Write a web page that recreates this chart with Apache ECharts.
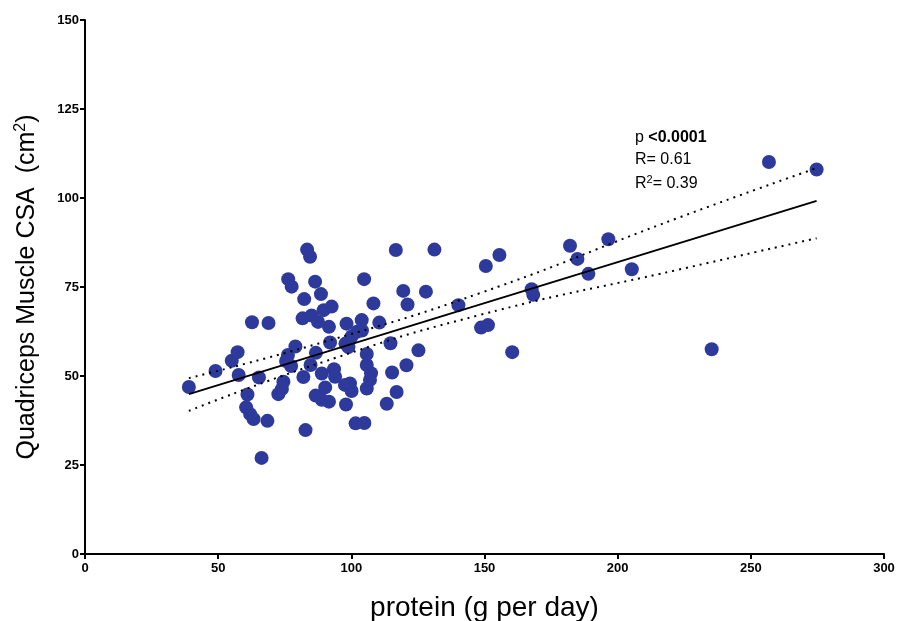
<!DOCTYPE html>
<html><head><meta charset="utf-8">
<script src="https://cdn.jsdelivr.net/npm/echarts@6/dist/echarts.min.js"></script>
<style>html,body{margin:0;padding:0;background:#fff}#c{width:901px;height:621px}</style>
</head><body><div id="c"></div>
<script>
const proteinX = [39.0,49.0,55.1,57.3,57.7,61.0,60.5,62.0,63.3,62.7,
68.9,65.3,68.5,66.3,72.6,73.9,74.5,76.2,75.5,77.4,
79.0,82.0,82.8,84.7,86.7,88.9,83.4,84.5,76.3,77.6,
86.4,82.3,88.6,81.7,85.1,87.5,91.6,89.6,92.6,92.0,
86.6,88.9,90.2,91.6,93.5,93.9,98.2,103.9,110.5,97.8,
100.1,102.1,104.0,98.9,114.7,105.8,125.2,105.8,107.4,107.0,
105.8,120.7,115.3,117.0,113.3,97.6,99.5,100.1,98.0,101.6,
104.9,104.8,116.7,131.2,119.5,128.0,108.3,121.1,140.2,148.7,
151.3,150.5,155.6,160.4,167.7,168.3,182.1,184.9,189.0,196.5,
205.3,235.3,256.8,274.7];
const csaY = [46.9,51.4,54.3,56.7,50.3,44.8,41.2,39.3,37.9,65.1,
64.9,49.6,37.4,27.0,44.9,46.3,48.4,55.9,54.2,52.8,
58.3,49.7,34.8,53.1,56.5,50.7,85.5,83.5,77.2,75.1,
76.5,71.6,73.0,66.2,67.0,65.2,63.8,68.5,69.5,59.4,
44.5,43.3,46.8,42.8,51.9,49.8,64.7,65.7,65.0,59.1,
61.1,62.4,62.8,58.1,59.2,56.2,57.2,53.1,50.8,48.9,
46.5,53.0,51.0,45.5,42.2,47.5,47.9,45.8,42.0,36.7,
36.8,77.2,85.4,85.5,73.9,73.7,70.4,70.1,69.9,63.6,
64.3,80.9,84.0,56.7,74.4,72.8,86.6,82.9,78.7,88.4,
80.0,57.5,110.1,108.0];
const fitX = [39.0, 274.7];
const fitY = [44.9, 99.2];
const bandX = [39.0, 88.0, 148.0, 223.0, 274.7];
const bandUpper = [49.4, 59.2, 73.2, 94.5, 108.4];
const bandLower = [40.2, 53.6, 67.1, 79.9, 88.7];
const xMin = 0, xMax = 300, xStep = 50;
const yMin = 0, yMax = 150, yStep = 25;
const statLines = ['p {b|<0.0001}', 'R= 0.61', 'R{sup|2}= 0.39'];

const zip = (a, b) => a.map((v, i) => [v, b[i]]);
const sans = '"Liberation Sans", Arial, sans-serif';
const tickFont = {fontFamily: '"Liberation Sans Narrow", "Liberation Sans", Arial, sans-serif', fontWeight: 'bold', fontSize: 13, color: '#000'};
const chart = echarts.init(document.getElementById('c'), null, {renderer: 'canvas'});
chart.setOption({
  backgroundColor: '#fff',
  animation: false,
  grid: {left: 85, right: 17, top: 20, bottom: 67, containLabel: false, outerBoundsMode: 'none'},
  xAxis: {
    type: 'value', min: xMin, max: xMax, interval: xStep,
    name: 'protein (g per day)', nameLocation: 'middle', nameGap: 40,
    nameTextStyle: {fontFamily: sans, fontSize: 28, color: '#000'},
    axisLine: {show: true, onZero: false, lineStyle: {color: '#000', width: 2}},
    axisTick: {show: true, length: 5, lineStyle: {color: '#000', width: 2}},
    axisLabel: Object.assign({margin: 8}, tickFont),
    splitLine: {show: false}
  },
  yAxis: {
    type: 'value', min: yMin, max: yMax, interval: yStep,
    name: 'Quadriceps Muscle CSA  (cm{sup|2})', nameLocation: 'middle', nameGap: 44,
    nameTextStyle: {fontFamily: sans, fontSize: 25, color: '#000',
      rich: {sup: {fontFamily: sans, fontSize: 16, verticalAlign: 'top', padding: [0,0,12,0], color: '#000'}}},
    axisLine: {show: true, onZero: false, lineStyle: {color: '#000', width: 2}},
    axisTick: {show: true, length: 5, lineStyle: {color: '#000', width: 2}},
    axisLabel: Object.assign({margin: 6}, tickFont),
    splitLine: {show: false}
  },
  series: [
    {type: 'scatter', data: zip(proteinX, csaY), symbol: 'circle', symbolSize: 14,
     itemStyle: {color: '#2e3a9b', opacity: 1}, z: 2},
    {type: 'line', data: zip(fitX, fitY), symbol: 'none', lineStyle: {color: '#000', width: 2}, z: 3},
    {type: 'line', data: zip(bandX, bandUpper), symbol: 'none', smooth: true,
     lineStyle: {color: '#000', width: 2, type: [2, 5]}, z: 3},
    {type: 'line', data: zip(bandX, bandLower), symbol: 'none', smooth: true,
     lineStyle: {color: '#000', width: 2, type: [2, 5]}, z: 3}
  ],
  graphic: statLines.map((t, i) => ({
    type: 'text', left: 635, top: 130 + i * 22,
    style: {text: t, fontFamily: sans, fontSize: 16, fill: '#000',
      rich: {
        b: {fontFamily: sans, fontSize: 16, fontWeight: 'bold', fill: '#000'},
        sup: {fontFamily: sans, fontSize: 11, verticalAlign: 'top', padding: [0,0,8,0], fill: '#000'}}}
  }))
});
</script>
</body></html>
